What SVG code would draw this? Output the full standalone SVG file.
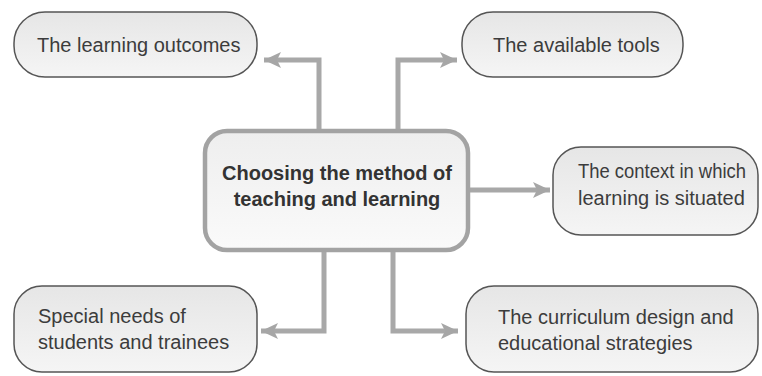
<svg xmlns="http://www.w3.org/2000/svg" width="762" height="376" viewBox="0 0 762 376">
  <defs>
    <linearGradient id="boxFill" x1="0" y1="0" x2="0" y2="1">
      <stop offset="0" stop-color="#e6e6e6"/>
      <stop offset="1" stop-color="#f5f5f5"/>
    </linearGradient>
    <linearGradient id="hubFill" x1="0" y1="0" x2="0" y2="1">
      <stop offset="0" stop-color="#eeeeee"/>
      <stop offset="1" stop-color="#fafafa"/>
    </linearGradient>
    <marker id="arrow" viewBox="0 0 20 18" refX="18" refY="9" markerWidth="20" markerHeight="18" markerUnits="userSpaceOnUse" orient="auto">
      <path d="M18,9 L1,1 L5,9 L1,17 Z" fill="#a6a6a6"/>
    </marker>
  </defs>
  <style>
    .box { fill: url(#boxFill); stroke: #555555; stroke-width: 1.5; }
    .hub { fill: url(#hubFill); stroke: #a3a3a3; stroke-width: 4.5; }
    .label { font-family: "Liberation Sans", Arial, sans-serif; font-size: 20px; fill: #3c3c3c; }
    .hub-label { font-family: "Liberation Sans", Arial, sans-serif; font-size: 20px; font-weight: bold; fill: #333333; text-anchor: middle; }
    .link { fill: none; stroke: #a8a8a8; stroke-width: 5; marker-end: url(#arrow); }
  </style>

  <rect width="762" height="376" fill="#ffffff"/>

  <g id="connectors">
    <path class="link" d="M319,131 V60 H264"/>
    <path class="link" d="M398,131 V60 H457"/>
    <path class="link" d="M468,190 H550"/>
    <path class="link" d="M324,250 V331 H261"/>
    <path class="link" d="M393,250 V331 H458"/>
  </g>

  <g id="hub">
    <rect class="hub" x="205" y="131" width="263" height="119" rx="22"/>
    <text class="hub-label" x="337" y="180">Choosing the method of</text>
    <text class="hub-label" x="337" y="206">teaching and learning</text>
  </g>

  <g id="learning-outcomes">
    <rect class="box" x="14" y="12" width="243" height="65" rx="31"/>
    <text class="label" x="37" y="52">The learning outcomes</text>
  </g>

  <g id="available-tools">
    <rect class="box" x="462" y="12" width="221" height="65" rx="31"/>
    <text class="label" x="493" y="52">The available tools</text>
  </g>

  <g id="context">
    <rect class="box" x="553" y="147" width="205" height="88" rx="28"/>
    <text class="label" x="578" y="178" textLength="168" lengthAdjust="spacingAndGlyphs">The context in which</text>
    <text class="label" x="578" y="205">learning is situated</text>
  </g>

  <g id="special-needs">
    <rect class="box" x="14" y="286" width="243" height="86" rx="28"/>
    <text class="label" x="38" y="323">Special needs of</text>
    <text class="label" x="38" y="349">students and trainees</text>
  </g>

  <g id="curriculum">
    <rect class="box" x="466" y="286" width="292" height="86" rx="28"/>
    <text class="label" x="498" y="324">The curriculum design and</text>
    <text class="label" x="498" y="350">educational strategies</text>
  </g>
</svg>
